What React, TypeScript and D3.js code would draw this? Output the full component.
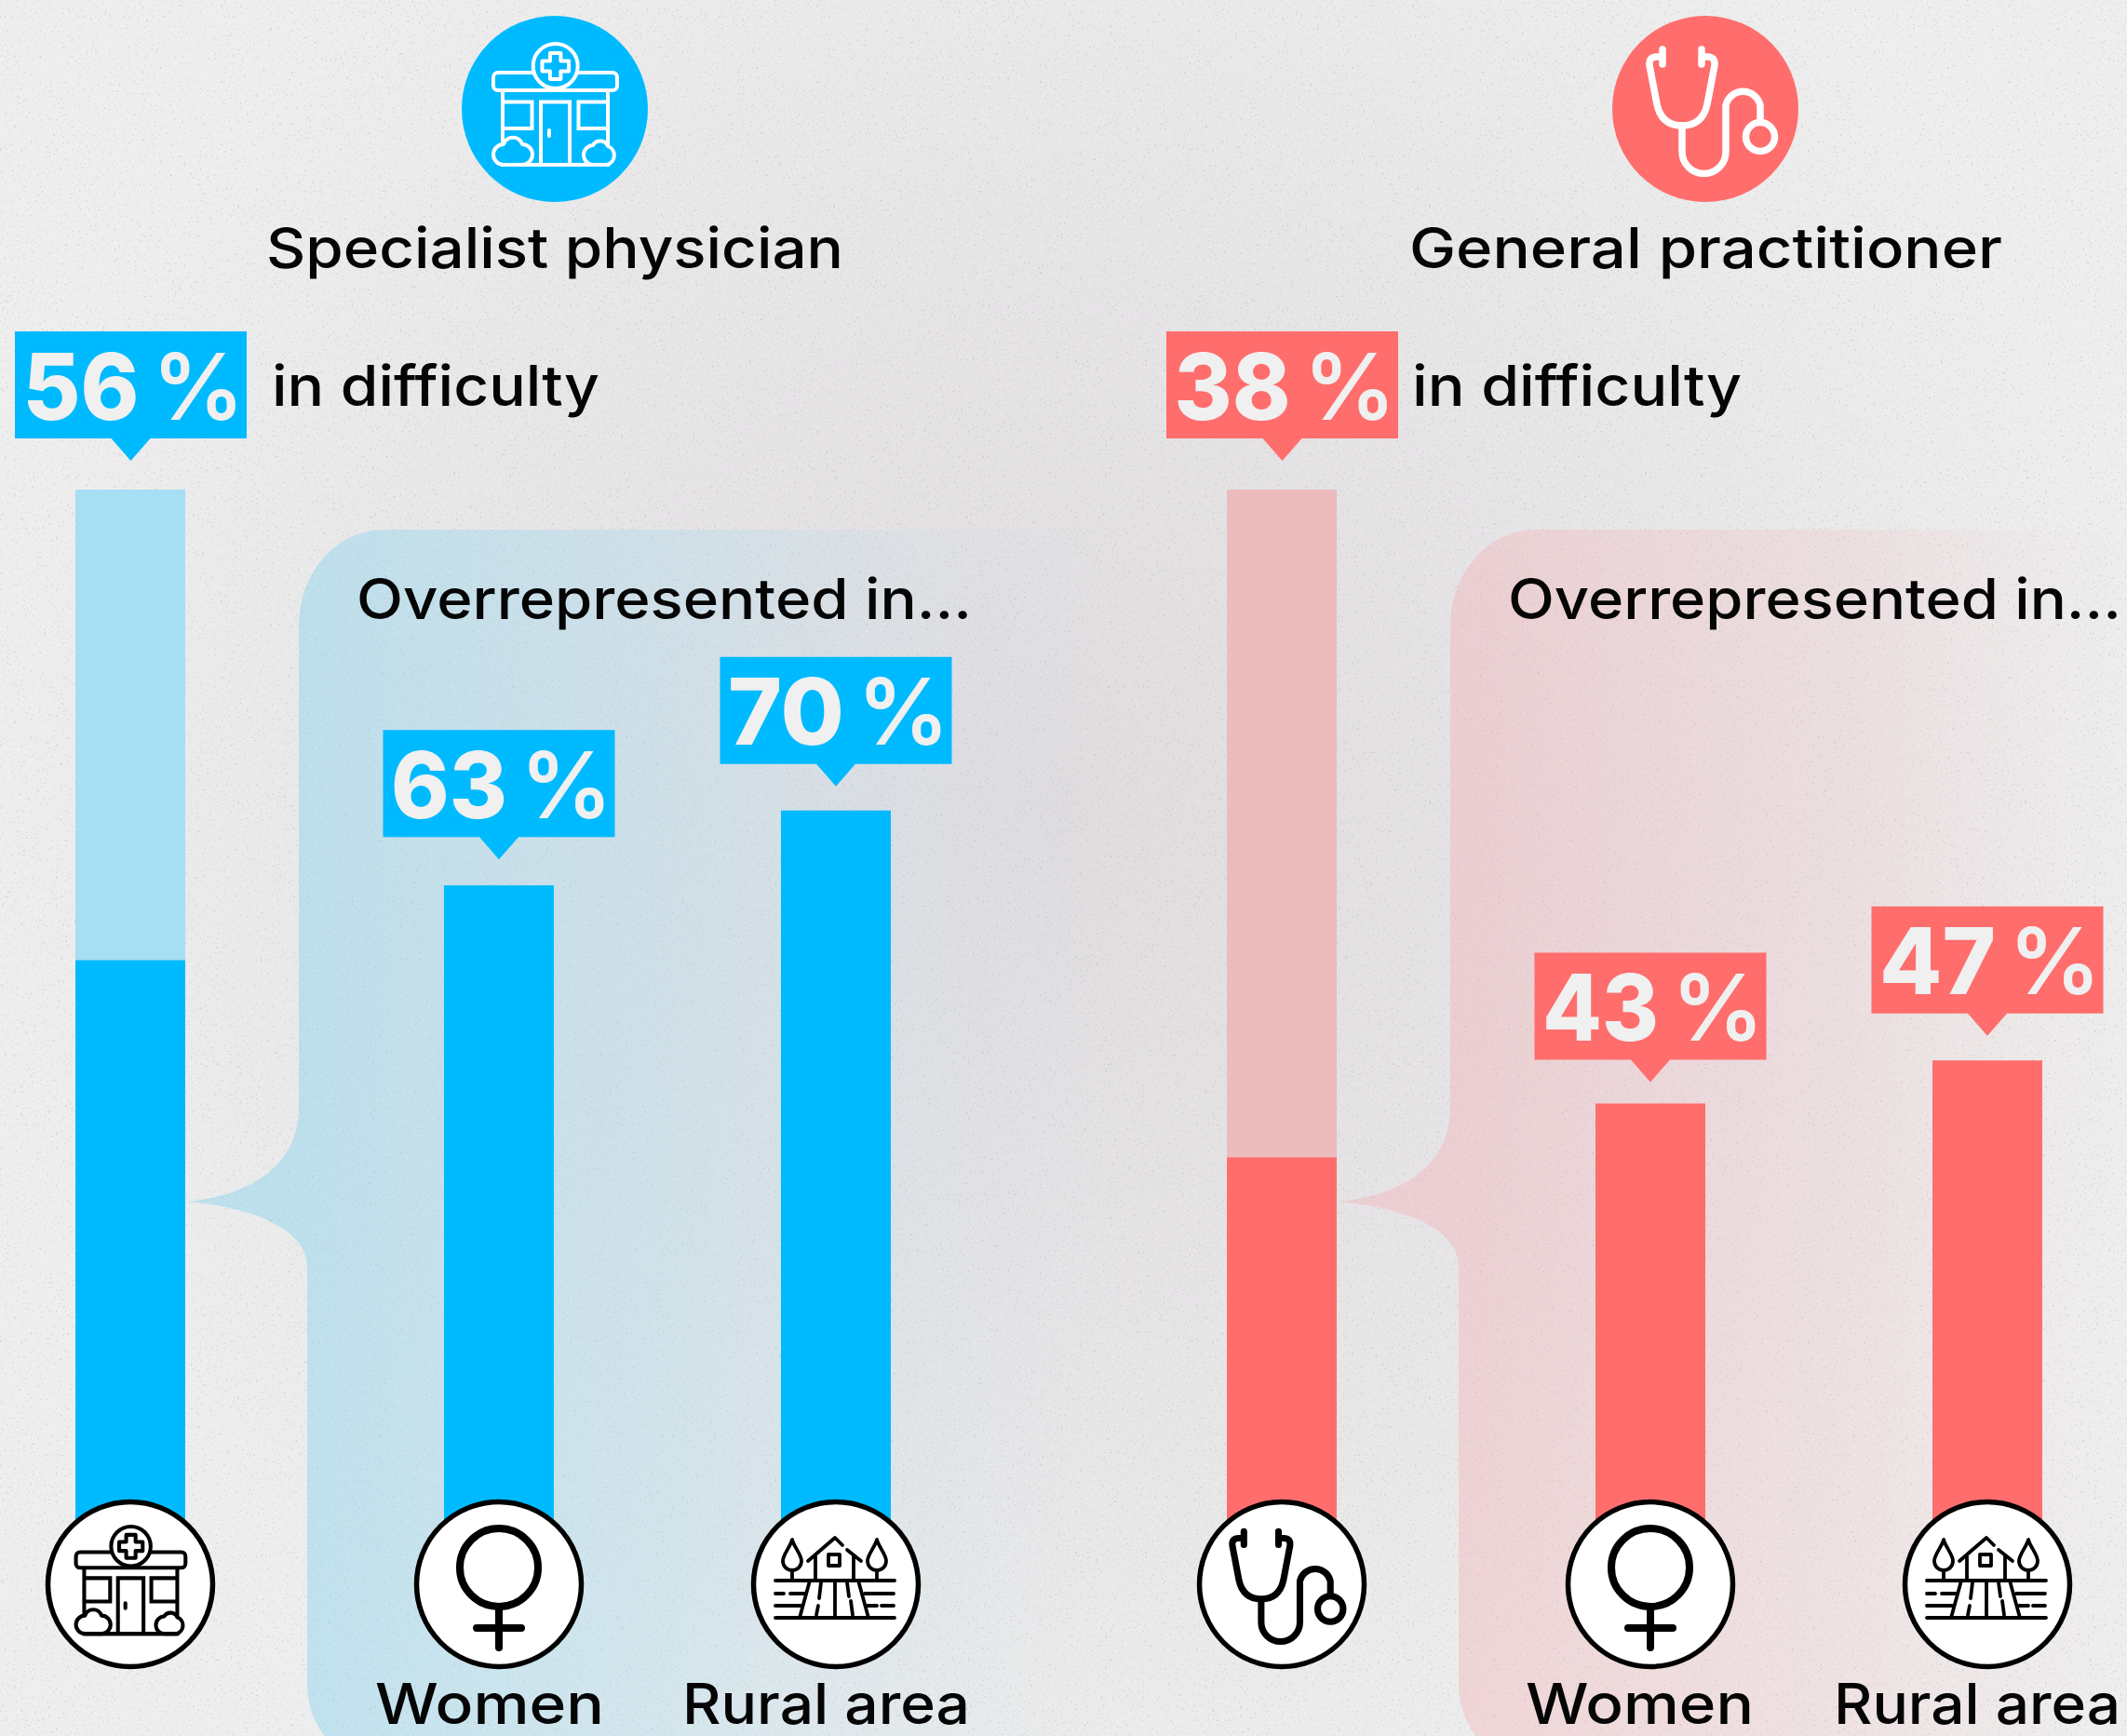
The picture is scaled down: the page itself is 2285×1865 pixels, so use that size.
import React from "react";
import * as d3 from "d3";

const W = 2285, H = 1865;
const BLUE = "#00BAFF", RED = "#FF6D6D";
const FONT = "Inter, 'Noto Sans', sans-serif";

const panelNames = ["specialist", "general"];
const panelTitles = ["Specialist physician", "General practitioner"];
const panelColors = [BLUE, RED];
const panelTracks = ["#A6DEF4", "#EBBBBE"];
const overallValues = [56, 38];
const womenValues = [63, 43];
const ruralValues = [70, 47];
const categoryLabels = ["Women", "Rural area"];

// layout, kept apart from the values
const xColumn = d3.scaleOrdinal<string, number>().domain(["all", "women", "rural"]).range([140, 536, 898]);
const xPanel = d3.scaleOrdinal<string, number>().domain(panelNames).range([0, 1237]);
const yScales = [
  d3.scaleLinear().domain([0, 100]).range([1675, 526]),
  d3.scaleLinear().domain([0, 100]).range([1683, 526]),
];
const BAR_W = 118;
const womenTagGap = [52, 47];
const ruralTagGap = [50, 50.5];

function Tag({ cx, bottom, color, value }: any) {
  const top = bottom - 115;
  const common = { y: bottom - 20.5, fill: "#F0F0F0", fontFamily: FONT, fontSize: 99, lengthAdjust: "spacingAndGlyphs" };
  return (
    <g>
      <path d={`M${cx - 124.5} ${top}H${cx + 124.5}V${bottom}H${cx + 21}L${cx} ${bottom + 24}L${cx - 21} ${bottom}H${cx - 124.5}Z`} fill={color} />
      <text x={cx - 116} fontWeight={800} textLength={125} {...common}>{value}</text>
      <text x={cx + 23} fontWeight={600} textLength={99} {...common}>%</text>
    </g>
  );
}

function T({ x0, x1, y, children }: any) {
  return <text x={x0} y={y} fill="#050505" fontFamily={FONT} fontWeight={450} fontSize={60} textLength={x1 - x0} lengthAdjust="spacingAndGlyphs">{children}</text>;
}

function Hospital({ stroke, fill, sw = 4 }: any) {
  const common = { stroke, strokeWidth: sw };
  return (
    <g>
      <path d="M-56 -20V60H57V-20" fill="none" {...common} />
      <path d="M-56 60H57" fill="none" {...common} />
      <rect x={-66} y={-39} width={133} height={19} rx={5} fill={fill} {...common} />
      <circle cx={0.7} cy={-46} r={24} fill={fill} {...common} />
      <path d="M-5 -60H6.4V-51.5H15V-40.5H6.4V-32H-5V-40.5H-13.5V-51.5H-5Z" fill="none" {...common} strokeLinejoin="round" />
      <path d="M-56 -7.5H-24.5V21H-56M57 -7.5H25.5V21H57" fill="none" {...common} />
      <path d="M-15 60V-7.5H16V60" fill="none" {...common} />
      <path d="M-6 23V29" fill="none" {...common} strokeLinecap="round" />
      <path d="M-55 60A11 11 0 0 1 -55 38A10.5 10.5 0 0 1 -35 38A11 11 0 0 1 -35 60Z" fill={fill} {...common} strokeLinejoin="round" />
      <path d="M42 60A10.5 10.5 0 0 1 41 39A9 9 0 0 1 57 40A10.5 10.5 0 0 1 56 60Z" fill={fill} {...common} strokeLinejoin="round" />
    </g>
  );
}

function Stethoscope({ stroke, sw = 7.5 }: any) {
  return (
    <g fill="none" stroke={stroke} strokeWidth={sw} strokeLinecap="round" strokeLinejoin="round">
      <path d="M-46 -64V-48M-4 -64V-48M-46 -56H-52Q-61 -56 -60 -47L-52 -5Q-47 18 -25 18Q-3 18 2 -5L10 -47Q11 -56 2 -56H-4" />
      <path d="M-25 18V46A23 23 0 0 0 22 46V-4A19 19 0 0 1 59 -4V13" />
      <circle cx={59} cy={30} r={15.5} />
    </g>
  );
}

function Female() {
  return (
    <g fill="none" stroke="#000" strokeWidth={8} strokeLinecap="round">
      <circle cx={0} cy={-18} r={42} />
      <path d="M0 24V68M-24 47H24" />
    </g>
  );
}

function Rural() {
  const tree = (x: number) => (
    <path d={`M${x} -48C${x - 2} -40 ${x - 10} -32 ${x - 10} -25A10 10 0 0 0 ${x + 10} -25C${x + 10} -32 ${x + 2} -40 ${x} -48ZM${x} -15V-4`} />
  );
  return (
    <g fill="none" stroke="#000" strokeWidth={3.8} strokeLinecap="round" strokeLinejoin="round">
      <path d="M-65 -4H63M-65 36H63M-65 10H-56M-49 10H-33M31 10H62M-65 23H-37M34 23H44M49 23H62" />
      <path d="M-28 -4L-39 36M24 -4L35 36M-1 -4V36M-16 -2L-18 15M-19 23L-21 33M12 -2L14 13M16 18L18 33" />
      <path d="M-22 -30V-4M19 -30V-4M-30 -25L-1 -50L7 -42M12 -37L27 -25" />
      <rect x={-8} y={-32} width={12} height={12} />
      {tree(-47)}
      {tree(44)}
    </g>
  );
}

const panelPath = (dx: number, right: number) =>
  `M${199 + dx} 1291C${265 + dx} 1285 ${321 + dx} 1255 ${321 + dx} 1189V672A91 103 0 0 1 ${412 + dx} 569H${right}V1900H${420 + dx}A90 90 0 0 1 ${330 + dx} 1810V1361C${330 + dx} 1320 ${270 + dx} 1296 ${199 + dx} 1291Z`;

function BottomIcon({ cx, children, s = 0.885 }: any) {
  return (
    <g transform={`translate(${cx} 1702)`}>
      <circle r={88.5} fill="#fff" stroke="#000" strokeWidth={5.5} />
      <g transform={`scale(${s})`}>{children}</g>
    </g>
  );
}

export default function App() {
  return (
    <svg width={W} height={H} viewBox={`0 0 ${W} ${H}`} style={{ position: "absolute", left: 0, top: 0, display: "block" }}>
      <defs>
        <radialGradient id="bg" gradientUnits="userSpaceOnUse" cx={1150} cy={870} r={1200}>
          <stop offset="0" stopColor="#E0DCDF" />
          <stop offset="0.45" stopColor="#E6E4E6" />
          <stop offset="0.85" stopColor="#ECECEC" />
          <stop offset="1" stopColor="#EEEEEE" />
        </radialGradient>
        <linearGradient id="panel0" gradientUnits="userSpaceOnUse" x1={320} x2={1200} y1={0} y2={0}>
          <stop offset="0" stopColor="#7FD0EE" stopOpacity={0.42} />
          <stop offset="0.48" stopColor="#9FD8EE" stopOpacity={0.3} />
          <stop offset="1" stopColor="#C8DCE8" stopOpacity={0} />
        </linearGradient>
        <linearGradient id="panel1" gradientUnits="userSpaceOnUse" x1={1557} x2={2285} y1={0} y2={0}>
          <stop offset="0" stopColor="#F5A9AE" stopOpacity={0.36} />
          <stop offset="0.6" stopColor="#F2B5B9" stopOpacity={0.2} />
          <stop offset="1" stopColor="#F2C0C3" stopOpacity={0} />
        </linearGradient>
        <filter id="speck" x="0" y="0" width="100%" height="100%">
          <feTurbulence type="fractalNoise" baseFrequency="0.4" numOctaves={2} seed={7} />
          <feColorMatrix type="matrix" values="0 0 0 0 0.4  0 0 0 0 0.4  0 0 0 0 0.4  14 0 0 0 -9.2" />
        </filter>
        <clipPath id="canvas"><rect width={W} height={H} /></clipPath>
      </defs>
      <g clipPath="url(#canvas)">
        <rect width={W} height={H} fill="url(#bg)" />
        <rect width={W} height={H} filter="url(#speck)" opacity={0.28} />
        {panelNames.map((name, i) => {
          const dx = xPanel(name);
          const y = yScales[i];
          const color = panelColors[i];
          const cols = [
            { key: "all", value: overallValues[i] },
            { key: "women", value: womenValues[i] },
            { key: "rural", value: ruralValues[i] },
          ];
          return (
            <g key={name}>
              <path d={panelPath(dx, i === 0 ? 1300 : 2400)} fill={`url(#panel${i})`} />
              <rect x={xColumn("all") + dx - BAR_W / 2} y={y(100)} width={BAR_W} height={1700 - y(100)} fill={panelTracks[i]} />
              {cols.map((c) => (
                <rect key={c.key} x={xColumn(c.key) + dx - BAR_W / 2} y={y(c.value)} width={BAR_W} height={1700 - y(c.value)} fill={color} />
              ))}
              <Tag cx={xColumn("all") + dx + 0.5} bottom={471} color={color} value={overallValues[i]} />
              <Tag cx={xColumn("women") + dx} bottom={y(womenValues[i]) - womenTagGap[i]} color={color} value={womenValues[i]} />
              <Tag cx={xColumn("rural") + dx} bottom={y(ruralValues[i]) - ruralTagGap[i]} color={color} value={ruralValues[i]} />
              <g transform={`translate(${i === 0 ? 596 : 1832} 117)`}>
                <circle r={100} fill={color} />
                {i === 0 ? <Hospital stroke="#fff" fill={color} /> : <Stethoscope stroke="#fff" />}
              </g>
              <BottomIcon cx={xColumn("all") + dx}>
                {i === 0 ? <Hospital stroke="#000" fill="#fff" sw={4.6} /> : <Stethoscope stroke="#000" sw={8} />}
              </BottomIcon>
              <BottomIcon cx={xColumn("women") + dx} s={1}><Female /></BottomIcon>
              <BottomIcon cx={xColumn("rural") + dx} s={1}><Rural /></BottomIcon>
            </g>
          );
        })}
        <T x0={286} x1={906} y={288}>{panelTitles[0]}</T>
        <T x0={1514} x1={2151} y={288}>{panelTitles[1]}</T>
        <T x0={292} x1={644} y={436}>in difficulty</T>
        <T x0={1517} x1={1871} y={436}>in difficulty</T>
        <T x0={383} x1={1044} y={665}>Overrepresented in...</T>
        <T x0={1620} x1={2279} y={665}>Overrepresented in...</T>
        <T x0={403} x1={649} y={1852}>{categoryLabels[0]}</T>
        <T x0={733} x1={1042} y={1852}>{categoryLabels[1]}</T>
        <T x0={1639} x1={1884} y={1852}>{categoryLabels[0]}</T>
        <T x0={1970} x1={2278} y={1852}>{categoryLabels[1]}</T>
      </g>
    </svg>
  );
}
